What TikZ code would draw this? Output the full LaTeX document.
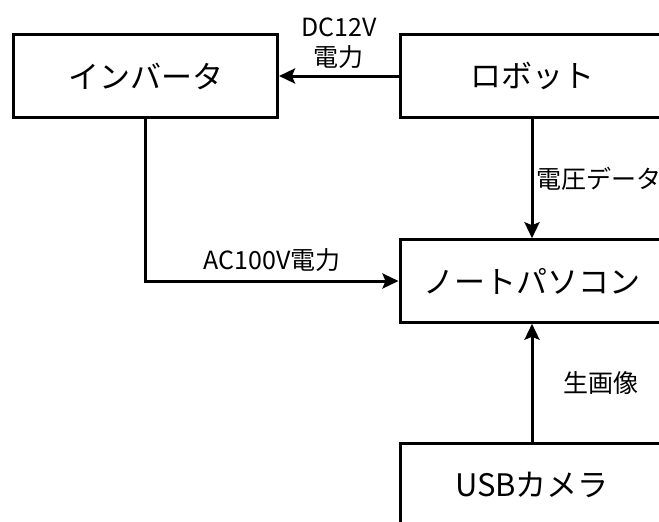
\documentclass[tikz,border=0pt]{standalone}
\usepackage{fontspec}
\setmainfont{Noto Sans CJK JP}
\usetikzlibrary{arrows.meta}

\begin{document}
\begin{tikzpicture}[x=1pt,y=-1pt,
  box/.style={draw,line width=3pt,minimum width=264pt,minimum height=82.5pt,inner sep=0pt,font=\fontsize{31}{36}\selectfont},
  lbl/.style={font=\fontsize{25}{30}\selectfont,inner sep=2pt},
  flow/.style={line width=3pt,-{Stealth[length=16pt,width=15pt,inset=3pt]}}]
 \useasboundingbox (0,0) rectangle (659,522);
 \clip (0,0) rectangle (659,522);

 \node[box] (inv) at (145.5,76){インバータ};
 \node[box] (robot) at (532,76){ロボット};
 \node[box] (pc) at (532,281){ノートパソコン};
 \node[box] (cam) at (532,485){USBカメラ};

 \draw[flow] (robot) -- (inv) node[lbl,midway,above=4pt,align=center]{DC12V\\電力};
 \draw[flow] (robot) -- (pc) node[lbl,midway,right=1pt]{電圧データ};
 \draw[flow] (inv) |- (pc) node[lbl,pos=0.75,above=6pt]{AC100V電力};
 \draw[flow] (cam) -- (pc) node[lbl,midway,right=28pt]{生画像};
\end{tikzpicture}
\end{document}
